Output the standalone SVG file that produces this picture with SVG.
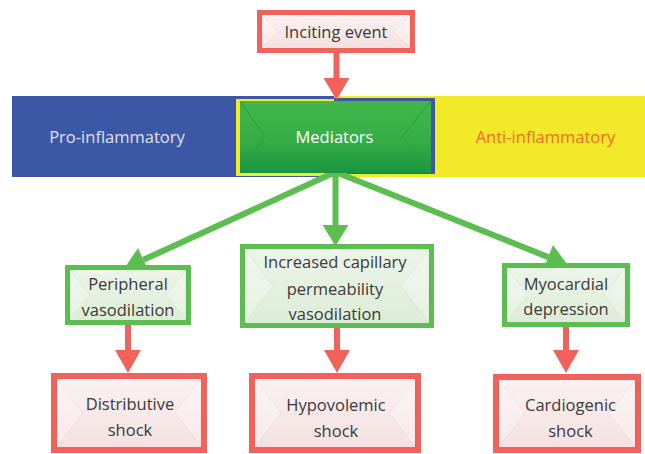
<svg xmlns="http://www.w3.org/2000/svg" width="645" height="454" viewBox="0 0 645 454">
<defs>
<linearGradient id="gMed" x1="0" y1="0" x2="0" y2="1">
<stop offset="0" stop-color="#42b64a"/><stop offset="0.55" stop-color="#36ad47"/><stop offset="1" stop-color="#1a9641"/>
</linearGradient>
<linearGradient id="gRed" x1="0" y1="0" x2="0" y2="1">
<stop offset="0" stop-color="#fbf2f2"/><stop offset="1" stop-color="#f4e0e0"/>
</linearGradient>
<linearGradient id="gGreen" x1="0" y1="0" x2="0" y2="1">
<stop offset="0" stop-color="#ecf5e9"/><stop offset="1" stop-color="#dcecd7"/>
</linearGradient>
</defs>
<style>
.txt{font-family:"Open Sans","Noto Sans","Liberation Sans",sans-serif;font-size:16.5px;text-anchor:middle;fill:#3a3a3a}
.red{fill:url(#gRed);stroke:#f0625a;stroke-width:6}
.grn{fill:url(#gGreen);stroke:#5cbd50;stroke-width:5}
.chev{fill:#ffffff;fill-opacity:0.28;stroke:#000;stroke-opacity:0.05;stroke-width:1}
.medchev{fill:none;stroke:#2a9a3e;stroke-width:1}
.rline{stroke:#f0625a;stroke-width:6;fill:none}
.rhead{fill:#f0625a}
.gline{stroke:#5cbd50;stroke-width:6;fill:none}
.ghead{fill:#5cbd50}
</style>

<g id="band">
<rect x="12" y="96" width="322" height="81" fill="#3b57a5"/>
<rect x="334" y="96" width="311" height="81" fill="#f2ea28"/>
<rect x="236" y="99" width="98" height="77" fill="#f2ea28"/>
<rect x="334" y="98" width="101" height="76" fill="#3b57a5"/>
</g>

<g id="connectors">
<line class="gline" x1="335.5" y1="172" x2="143.4" y2="259.8"/>
<polygon class="ghead" points="138,248 124.3,268.5 148.8,271.6"/>
<line class="gline" x1="335.5" y1="172" x2="335.5" y2="226"/>
<polygon class="ghead" points="322.5,225 348.5,225 335.5,246"/>
<line class="gline" x1="335.5" y1="172" x2="548.2" y2="257.1"/>
<polygon class="ghead" points="553,245 567.7,264.9 543.4,269.2"/>
<line class="rline" x1="336.5" y1="52" x2="336.5" y2="79"/>
<polygon class="rhead" points="323.5,78 349.5,78 336.5,100"/>
<line class="rline" x1="128" y1="324" x2="128" y2="351"/>
<polygon class="rhead" points="115,350 141,350 128,373"/>
<line class="rline" x1="337" y1="327" x2="337" y2="351"/>
<polygon class="rhead" points="324,350 350,350 337,373"/>
<line class="rline" x1="566" y1="326" x2="566" y2="351"/>
<polygon class="rhead" points="553,350 579,350 566,373"/>
</g>

<g id="pro-inflammatory">
<text class="txt" x="117" y="143" style="fill:#dfe3f1">Pro-inflammatory</text>
</g>
<g id="anti-inflammatory">
<text class="txt" x="545.5" y="143" style="fill:#f26a2b">Anti-inflammatory</text>
</g>

<g id="mediators">
<rect x="240" y="101" width="191" height="72" fill="url(#gMed)"/>
<polyline class="medchev" points="240,101 265,137 240,173"/>
<polyline class="medchev" points="431,101 402,137 431,173"/>
<text class="txt" x="334.5" y="143" style="fill:#ffffff">Mediators</text>
</g>

<g id="inciting-event">
<rect class="red" x="259.5" y="12.5" width="153" height="38" style="stroke-width:5"/>
<polygon class="chev" points="262,15 278,31.5 262,48"/>
<polygon class="chev" points="410,15 394,31.5 410,48"/>
<text class="txt" x="336" y="38">Inciting event</text>
</g>

<g id="peripheral-vasodilation">
<rect class="grn" x="67.5" y="267.5" width="121" height="55"/>
<polygon class="chev" points="70,270 90,295 70,320"/>
<polygon class="chev" points="186,270 166,295 186,320"/>
<text class="txt" x="128" y="290">Peripheral</text>
<text class="txt" x="128" y="315.5">vasodilation</text>
</g>

<g id="increased-capillary-permeability">
<rect class="grn" x="242.5" y="246.5" width="189" height="79"/>
<polygon class="chev" points="245,249 273,286 245,323"/>
<polygon class="chev" points="429,249 401,286 429,323"/>
<text class="txt" x="335" y="267.5">Increased capillary</text>
<text class="txt" x="335" y="294.5">permeability</text>
<text class="txt" x="335" y="320">vasodilation</text>
</g>

<g id="myocardial-depression">
<rect class="grn" x="504.5" y="265.5" width="123" height="59"/>
<polygon class="chev" points="507,268 528,295 507,322"/>
<polygon class="chev" points="625,268 604,295 625,322"/>
<text class="txt" x="566" y="290">Myocardial</text>
<text class="txt" x="566" y="315">depression</text>
</g>

<g id="distributive-shock">
<rect class="red" x="54" y="376" width="150" height="74"/>
<polygon class="chev" points="57,379 83,413 57,447"/>
<polygon class="chev" points="201,379 175,413 201,447"/>
<text class="txt" x="130" y="409.5">Distributive</text>
<text class="txt" x="130" y="435.5">shock</text>
</g>

<g id="hypovolemic-shock">
<rect class="red" x="252" y="376" width="166" height="74"/>
<polygon class="chev" points="255,379 281,413 255,447"/>
<polygon class="chev" points="415,379 389,413 415,447"/>
<text class="txt" x="336" y="410.5">Hypovolemic</text>
<text class="txt" x="336" y="436.5">shock</text>
</g>

<g id="cardiogenic-shock">
<rect class="red" x="496" y="377" width="142" height="73"/>
<polygon class="chev" points="499,380 525,413.5 499,447"/>
<polygon class="chev" points="635,380 609,413.5 635,447"/>
<text class="txt" x="570.5" y="410.5">Cardiogenic</text>
<text class="txt" x="570.5" y="436.5">shock</text>
</g>
</svg>
